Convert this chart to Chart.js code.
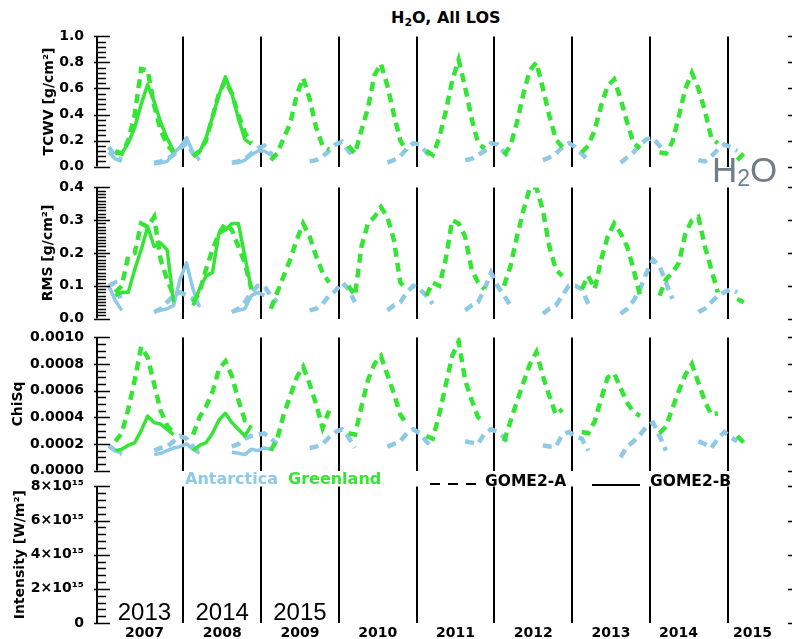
<!DOCTYPE html>
<html lang="en">
<head>
<meta charset="UTF-8" />
<title>H2O, All LOS</title>
<script src="https://cdn.jsdelivr.net/npm/chart.js"></script>
<style>
  html, body { margin: 0; padding: 0; background: #fff; overflow: hidden; }
  #wrap { position: relative; width: 792px; height: 639px; overflow: hidden; font-family: 'DejaVu Sans', sans-serif; }
  canvas.panel { position: absolute; left: 0; }
  .txt { position: absolute; white-space: nowrap; line-height: 20px; height: 20px; }
</style>
</head>
<body>
<div id="wrap">
  <div class="txt" style="left:391px; top:8px; font-weight:bold; font-size:16px;">H<span style="font-size:11px; vertical-align:-3px;">2</span>O, All LOS</div>

  <canvas id="cTcwv" class="panel" width="812" height="157" style="top:23px"></canvas>
  <canvas id="cRms" class="panel" width="812" height="158" style="top:174px"></canvas>
  <canvas id="cChi" class="panel" width="812" height="160" style="top:324px"></canvas>
  <canvas id="cInt" class="panel" width="812" height="166" style="top:473px"></canvas>

  <!-- legend row -->
  <div class="txt" style="left:185px; top:469px; font-weight:bold; font-size:16px; color:#8ec9e5;">Antarctica</div>
  <div class="txt" style="left:288px; top:469px; font-weight:bold; font-size:16px; color:#35e535;">Greenland</div>
  <div style="position:absolute; left:430px; top:483px; width:46px; height:2px; background:repeating-linear-gradient(90deg,#000 0 10px,transparent 10px 18px);"></div>
  <div class="txt" style="left:485px; top:471px; font-size:15.5px; font-weight:bold;">GOME2-A</div>
  <div style="position:absolute; left:592px; top:484px; width:48px; height:2px; background:#000;"></div>
  <div class="txt" style="left:650px; top:471px; font-size:15.5px; font-weight:bold;">GOME2-B</div>

  <div style="position:absolute; left:712px; top:153px; font-family:'Liberation Sans', sans-serif; font-size:35px; line-height:33px; color:#6f7d89;">H<span style="font-size:23px; vertical-align:-4px;">2</span>O</div>
</div>

<script>
  const GREEN = '#35e535';
  const BLUE = '#8ec9e5';
  const _ = null;

  // monthly means, one row per year (Jan..Dec), first row = 2007
  const firstYear = 2007;

  // x axis
  const xMin = 2006.89;
  const xMax = 2015.945;
  const yearLines = [2008, 2009, 2010, 2011, 2012, 2013, 2014, 2015];
  const yearLabels = ['2007', '2008', '2009', '2010', '2011', '2012', '2013', '2014', '2015'];
  const yearLabelAt = [2007.5, 2008.5, 2009.5, 2010.5, 2011.5, 2012.5, 2013.5, 2014.37, 2015.32];
  const gome2bYears = ['2013', '2014', '2015'];
  const gome2bYearAt = [2007.5, 2008.5, 2009.5];

  // TCWV [g/cm2]
  const tcwvGreenA = [
    [_, .12, .10, .20, .40, .75, .74, .47, .28, .17, .11, _],
    [_, .08, .12, .20, .38, .56, .66, .56, .40, .26, .18, _],
    [_, .05, .10, .22, .33, .55, .68, .52, .30, .16, .13, _],
    [_, .16, .10, .28, .45, .70, .79, .62, .40, .20, .12, _],
    [_, .12, .09, .22, .42, .66, .82, .61, .37, .18, .14, _],
    [_, .09, .16, .34, .56, .74, .80, .60, .39, .21, .15, _],
    [_, .11, .16, .28, .47, .62, .67, .52, .34, .18, .14, _],
    [_, .11, .10, .19, .39, .60, .72, .60, .43, .22, .18, _],
    [_, .05, .10]
  ];
  const tcwvGreenB = [
    [_, .10, .10, .18, .30, .48, .63, .50, .34, .22, .12, _],
    [_, .08, .11, .22, .38, .55, .69, .56, .37, .21, .17, _]
  ];
  const tcwvBlueA = [
    [.15, .08, .05, _, _, _, _, .03, .04, .06, .09, .14],
    [.18, .10, .05, _, _, _, _, .03, .04, .06, .10, .14],
    [.16, .10, .06, _, _, _, _, .04, .05, .08, .12, .17],
    [.19, .12, .06, _, _, _, _, .03, .05, .08, .14, .18],
    [.17, .11, .06, _, _, _, _, .05, .06, .09, .12, .18],
    [.17, .11, .06, _, _, _, _, .05, .07, .10, .15, .18],
    [.15, .10, .05, _, _, _, _, .03, .07, .11, .17, .21],
    [.22, .16, .10, _, _, _, _, .05, .04, .08, .13, .17],
    [.15, .12]
  ];
  const tcwvBlueB = [
    [.11, .06, .04, _, _, _, _, .02, .03, .04, .10, .15],
    [.22, .11, .05, _, _, _, _, .03, .03, .05, .09, .12],
    [.12, .09]
  ];
  const tcwvTicks = [0, 0.2, 0.4, 0.6, 0.8, 1.0];

  // RMS [g/cm2]
  const rmsGreenA = [
    [_, .08, .10, .19, .20, .29, .28, .31, .18, .12, .07, _],
    [_, .05, .08, .15, .21, .26, .29, .27, .22, .17, .09, _],
    [_, .03, .08, .13, .18, .24, .29, .25, .19, .14, .11, _],
    [_, .10, .07, .22, .29, .31, .34, .31, .24, .11, .09, _],
    [_, .07, .11, .10, .18, .30, .29, .25, .15, .11, .09, _],
    [_, .10, .16, .25, .33, .40, .40, .33, .22, .15, .13, _],
    [_, .09, .13, .09, .18, .25, .29, .26, .22, .15, .07, _],
    [_, .07, .12, .14, .17, .26, .30, .31, .22, .15, .08, _],
    [_, .06, .05]
  ];
  const rmsGreenB = [
    [_, .07, .08, .08, .15, .21, .28, .22, .23, .21, .05, _],
    [_, .04, .09, .13, .14, .26, .27, .29, .29, .19, .09, _]
  ];
  const rmsBlueA = [
    [.10, .11, .05, _, _, _, _, .02, .03, .05, .07, .08],
    [.07, .06, .04, _, _, _, _, .02, .03, .05, .08, .10],
    [.10, .07, .05, _, _, _, _, .025, .03, .045, .07, .085],
    [.11, .09, .05, _, _, _, _, .025, .04, .05, .08, .10],
    [.09, .07, .045, _, _, _, _, .025, .04, .05, .09, .14],
    [.10, .07, .04, _, _, _, _, .015, .03, .04, .07, .10],
    [.10, .09, .045, _, _, _, _, .015, .03, .055, .09, .14],
    [.18, .16, .11, .06, _, _, _, .02, .03, .05, .07, .08],
    [.09, .08]
  ];
  const rmsBlueB = [
    [.10, .055, .025, _, _, _, _, .02, .025, .03, .04, .12],
    [.17, .09, .035, _, _, _, _, .02, .025, .03, .07, .08],
    [.07]
  ];
  const rmsTicks = [0, 0.1, 0.2, 0.3, 0.4];

  // ChiSq
  const chiGreenA = [
    [_, .00022, .00028, .00046, .00068, .00093, .00085, .00065, .00045, .00034, .00028, _],
    [_, .00027, .00040, .00048, .00059, .00076, .00082, .00071, .00053, .00038, .00040, _],
    [_, .00015, .00024, .00042, .00056, .00070, .00078, .00065, .00050, .00032, .00045, _],
    [_, .00028, .00027, .00048, .00068, .00080, .00086, .00072, .00058, .00042, .00035, _],
    [_, .00026, .00024, .00042, .00064, .00086, .00097, .00068, .00053, .00040, .00037, _],
    [_, .00022, .00037, .00052, .00066, .00080, .00089, .00071, .00056, .00042, .00046, _],
    [_, .00029, .00028, .00037, .00054, .00070, .00073, .00062, .00051, .00044, .00041, _],
    [_, .00028, .00033, .00047, .00060, .00072, .00080, .00066, .00052, .00042, .00043, _],
    [_, .00026, .00021]
  ];
  const chiGreenB = [
    [_, .00015, .00016, .00019, .00021, .00030, .00041, .00036, .00035, .00031, .00027, _],
    [_, .00015, .00019, .00021, .00028, .00038, .00043, .00036, .00031, .00026, .00034, _]
  ];
  const chiBlueA = [
    [.00019, .00015, .00012, _, _, _, _, .00015, .00017, .00018, .00022, .00026],
    [.00024, .00018, .00014, _, _, _, _, .00018, .00020, .00024, .00026, .00027],
    [.00028, .00024, .00020, _, _, _, _, .00017, .00018, .00020, .00025, .00029],
    [.00031, .00025, .00017, _, _, _, _, .00018, .00020, .00022, .00028, .00031],
    [.00028, .00022, .00017, _, _, _, _, .00022, .00021, .00020, .00028, .00031],
    [.00029, .00025, .00018, _, _, _, _, .00019, .00018, .00018, .00027, .00029],
    [.00026, .00024, .00015, _, _, _, _, .00010, .00018, .00022, .00027, .00033],
    [.00036, .00026, .00015, _, _, _, _, .00022, .00020, .00017, .00024, .00029],
    [.00025, .00022]
  ];
  const chiBlueB = [
    [.00018, .00015, .00013, _, _, _, _, .00012, .00013, .00015, .00017, .00018],
    [.00020, .00016, .00013, _, _, _, _, .00014, .00013, .00012, .00016, .00015],
    [.00017, .00016]
  ];
  const chiTicks = [0, 0.0002, 0.0004, 0.0006, 0.0008, 0.0010];

  // Intensity [W/m2] - no data drawn
  const intTicks = [0, 2e15, 4e15, 6e15, 8e15];
  const intTickLabels = ['0', '2×10¹⁵', '4×10¹⁵', '6×10¹⁵', '8×10¹⁵'];

  function toPoints(rows) {
    const pts = [];
    rows.forEach((row, r) => row.forEach((v, m) => {
      pts.push({ x: firstYear + r + (m + 0.5) / 12, y: v });
    }));
    return pts;
  }

  function dashed(rows, color) {
    return { data: toPoints(rows), borderColor: color, borderWidth: 4.5, borderDash: [9, 6],
             borderCapStyle: 'butt', pointRadius: 0, tension: 0, spanGaps: false };
  }
  function solid(rows, color) {
    return { data: toPoints(rows), borderColor: color, borderWidth: 3.5, borderJoinStyle: 'round',
             pointRadius: 0, tension: 0, spanGaps: false };
  }

  // ruler-like y axis on both sides
  const ladder = {
    id: 'ladder',
    afterDraw(chart, args, opts) {
      const { ctx, chartArea: a } = chart;
      const y = chart.scales.y;
      const n = Math.round((y.max - y.min) / opts.minor);
      ctx.save();
      ctx.strokeStyle = '#000';
      ctx.lineWidth = 2;
      ctx.beginPath();
      ctx.moveTo(a.left, a.top); ctx.lineTo(a.left, a.bottom);
      ctx.moveTo(a.right, a.top); ctx.lineTo(a.right, a.bottom);
      ctx.stroke();
      ctx.lineWidth = 1.5;
      ctx.beginPath();
      for (let k = 0; k <= n; k++) {
        const py = Math.round(y.getPixelForValue(y.min + k * opts.minor)) + 0.5;
        const len = k % opts.per === 0 ? 13 : 9;
        ctx.moveTo(a.left - (k % opts.per === 0 ? 3 : 0), py); ctx.lineTo(a.left + len, py);
        ctx.moveTo(a.right - len, py); ctx.lineTo(a.right, py);
      }
      ctx.stroke();
      ctx.restore();
    }
  };

  // year labels under the bottom panel + GOME2-B years written inside it
  const yearText = {
    id: 'yearText',
    afterDraw(chart) {
      const { ctx, chartArea: a } = chart;
      const x = chart.scales.x;
      ctx.save();
      ctx.fillStyle = '#000';
      ctx.textAlign = 'center';
      ctx.textBaseline = 'alphabetic';
      ctx.font = '24px "Liberation Sans", sans-serif';
      gome2bYears.forEach((t, i) => ctx.fillText(t, x.getPixelForValue(gome2bYearAt[i]), a.bottom - 3));
      ctx.font = 'bold 14px "DejaVu Sans", sans-serif';
      yearLabels.forEach((t, i) => ctx.fillText(t, x.getPixelForValue(yearLabelAt[i]), a.bottom + 14));
      ctx.restore();
    }
  };

  const tickFont = { family: 'DejaVu Sans', weight: 'bold', size: 14 };
  const titleFont = { family: 'DejaVu Sans', weight: 'bold', size: 14 };

  function makePanel(id, cfg) {
    return new Chart(document.getElementById(id), {
      type: 'line',
      data: { datasets: cfg.sets },
      options: {
        responsive: false,
        animation: false,
        events: [],
        layout: { padding: { top: 10, bottom: cfg.yearAxis ? 16 : 10, left: 0, right: 11 } },
        plugins: {
          legend: { display: false },
          tooltip: { enabled: false },
          ladder: { minor: cfg.minor, per: cfg.per }
        },
        scales: {
          x: {
            type: 'linear', min: xMin, max: xMax,
            afterBuildTicks: s => { s.ticks = yearLines.map(v => ({ value: v })); },
            afterFit: s => { s.height = 0; },
            ticks: { display: false },
            grid: { color: '#000', lineWidth: 2, drawTicks: false },
            border: { display: false }
          },
          y: {
            min: cfg.ticks[0], max: cfg.ticks[cfg.ticks.length - 1],
            afterBuildTicks: s => { s.ticks = cfg.ticks.map(v => ({ value: v })); },
            afterFit: s => { s.width = 97; },
            ticks: { color: '#000', font: tickFont, padding: 5, callback: cfg.label },
            grid: { display: false },
            border: { display: false },
            title: { display: true, text: cfg.title, color: '#000', font: titleFont, padding: { top: cfg.titlePad, bottom: 0 } }
          }
        }
      },
      plugins: cfg.yearAxis ? [ladder, yearText] : [ladder]
    });
  }

  makePanel('cTcwv', {
    sets: [solid(tcwvGreenB, GREEN), dashed(tcwvGreenA, GREEN), solid(tcwvBlueB, BLUE), dashed(tcwvBlueA, BLUE)],
    ticks: tcwvTicks, label: v => v.toFixed(1), minor: 0.04, per: 5,
    title: 'TCWV [g/cm²]', titlePad: 41
  });
  makePanel('cRms', {
    sets: [solid(rmsGreenB, GREEN), dashed(rmsGreenA, GREEN), solid(rmsBlueB, BLUE), dashed(rmsBlueA, BLUE)],
    ticks: rmsTicks, label: v => v.toFixed(1), minor: 0.01, per: 10,
    title: 'RMS [g/cm²]', titlePad: 40
  });
  makePanel('cChi', {
    sets: [solid(chiGreenB, GREEN), dashed(chiGreenA, GREEN), solid(chiBlueB, BLUE), dashed(chiBlueA, BLUE)],
    ticks: chiTicks, label: v => v.toFixed(4), minor: 0.00005, per: 4,
    title: 'ChiSq', titlePad: 10
  });
  makePanel('cInt', {
    sets: [],
    ticks: intTicks, label: (v, i) => intTickLabels[i], minor: 4e14, per: 5,
    title: 'Intensity [W/m²]', titlePad: 12, yearAxis: true
  });
</script>
</body>
</html>
